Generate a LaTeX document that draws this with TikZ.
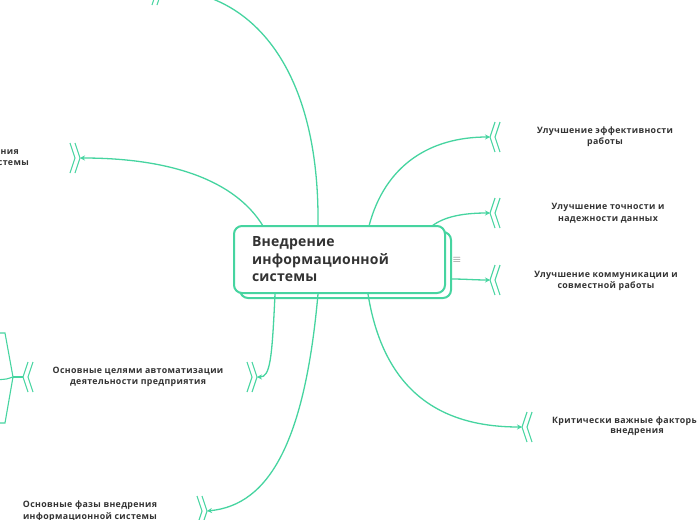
\documentclass[tikz,border=0pt]{standalone}
\usepackage{fontspec}
\setmainfont{Open Sans}
\newfontfamily\leaffont[LetterSpace=4]{Open Sans}
\newfontfamily\rootfont[LetterSpace=1.5]{Open Sans}
\usetikzlibrary{calc,arrows.meta}
\definecolor{mint}{RGB}{70,212,160}
\definecolor{ink}{RGB}{51,51,51}
\tikzset{
  branch/.style={draw=mint,line width=1.3pt},
  link/.style={branch,-{Stealth[length=5pt,width=5pt]}},
  leaf/.style={text=ink,font=\leaffont\bfseries\fontsize{8.8}{11.5}\selectfont,align=center,inner sep=0pt},
  rootbox/.style={draw=mint,line width=2pt,rounded corners=8pt,fill=white,
    text=ink,font=\rootfont\bfseries\fontsize{14}{17.5}\selectfont,align=left,
    text width=175pt,inner xsep=18pt,minimum height=67pt}
}
% twin chevrons: (tip)[+1 opens right, -1 opens left]
\def\twinchev(#1)[#2]{%
  \draw[branch,line width=1.1pt] ($(#1)+(#2*5,-15)$) -- (#1) -- ($(#1)+(#2*5,15)$);
  \draw[branch,line width=1.1pt] ($(#1)+(#2*10,-15)$) -- ($(#1)+(#2*5,0)$) -- ($(#1)+(#2*10,15)$);}

\begin{document}
\begin{tikzpicture}[x=1pt,y=-1pt]
		\useasboundingbox (0,0) rectangle (697,520);
		\clip (0,0) rectangle (697,520);
		
		%%%%% ROOT %%%%%
		\draw[mint,line width=2pt,rounded corners=8pt,fill=white] (240,232) rectangle (451,298);
		\node[rootbox] (root) at (339.5,259.5) {Внедрение\\информационной\\системы};
		\node[text=ink!80,font=\fontsize{11}{11}\selectfont,inner sep=0pt] (menu) at (457,260) {$\equiv$};
		
		\coordinate (t1) at (263,226);
		\coordinate (t2) at (318,226);
		\coordinate (t3) at (369,226);
		\coordinate (t4) at (432,226);
		\coordinate (r1) at (451,279);
		\coordinate (b1) at (275,294);
		\coordinate (b2) at (318,294);
		\coordinate (b3) at (368,294);
		
		%%%%% TIPS %%%%%
		\coordinate (topv) at (162,-10);
		\coordinate (zadv) at (80,158);
		\coordinate (effv) at (490,137);
		\coordinate (tochv) at (490,213);
		\coordinate (kommv) at (490,280);
		\coordinate (kritv) at (522,427);
		\coordinate (celiv) at (257,377);
		\coordinate (fazv) at (207,511);
		
		\twinchev(topv)[-1]
		\twinchev(zadv)[-1]
		\twinchev(effv)[1]
		\twinchev(tochv)[1]
		\twinchev(kommv)[1]
		\twinchev(kritv)[1]
		\twinchev(celiv)[-1]
		\twinchev(fazv)[-1]
		
		%%%%% LINKS %%%%%
		\draw[link] (t1) .. controls (235,180) and (170,158) .. (zadv);
		\draw[link] (t2) .. controls (320,60) and (245,-10) .. (topv);
		\draw[link] (t3) .. controls (385,165) and (430,137) .. (effv);
		\draw[link] (t4) .. controls (445,216) and (465,213) .. (tochv);
		\draw[link] (r1) .. controls (465,279) and (475,280) .. (kommv);
		\draw[link] (b1) .. controls (272,360) and (270,377) .. (celiv);
		\draw[link] (b2) .. controls (305,440) and (270,505) .. (fazv);
		\draw[link] (b3) .. controls (385,400) and (450,427) .. (kritv);
		
		%%%%% LEAVES %%%%%
		\node[leaf] (eff) at (605,136.5) {Улучшение эффективности\\работы};
		\node[leaf] (toch) at (608,213) {Улучшение точности и\\надежности данных};
		\node[leaf] (komm) at (606,281) {Улучшение коммуникации и\\совместной работы};
		\node[leaf,anchor=west] (kritA) at (552,421) {Критически важные факторы};
		\node[leaf] (kritB) at (637,432) {внедрения};
		\node[leaf] (celi) at (138,377) {Основные целями автоматизации\\деятельности предприятия};
		\node[leaf] (faz) at (90,511) {Основные фазы внедрения\\информационной системы};
		\node[leaf,anchor=east] (zadA) at (19,152) {ния};
		\node[leaf,anchor=east] (zadB) at (29,163) {стемы};
		
		%%%%% CELI CHILDREN %%%%%
		\coordinate (celiL) at (23,377);
		\coordinate (celiJ) at (13,377);
		\coordinate (sub1) at (-5,333);
		\coordinate (sub2) at (-5,380);
		\coordinate (sub3) at (-5,423);
		\twinchev(celiL)[1]
		\draw[branch,line width=1.1pt] (celiL) -- (celiJ);
		\draw[branch,line width=1.1pt] (celiJ) -- (5,333) -- (sub1);
		\draw[branch,line width=1.1pt] (celiJ) .. controls (8,379) .. (sub2);
		\draw[branch,line width=1.1pt] (celiJ) -- (5,423) -- (sub3);
	\end{tikzpicture}
\end{document}
